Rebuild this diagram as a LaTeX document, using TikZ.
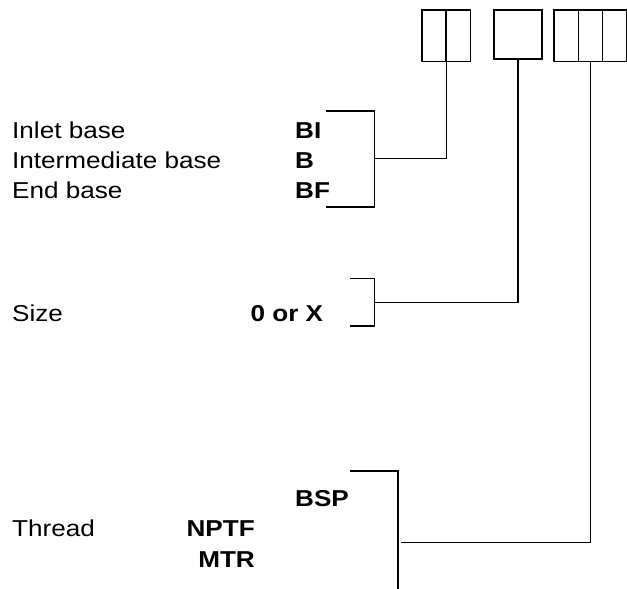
\documentclass[tikz,border=0pt]{standalone}
\usepackage{fontspec}
\setmainfont{Liberation Sans}[FakeStretch=1.135]
\usetikzlibrary{positioning}
\tikzset{
  cell/.style={draw, line width=1.8pt, minimum width=24.1pt, minimum height=51.5pt, inner sep=0pt, outer sep=0pt},
  wide cell/.style={cell, minimum width=48.3pt, minimum height=49.3pt},
  nametext/.style={inner sep=0pt, font=\fontsize{23}{23}\selectfont},
  codetext/.style={inner sep=0pt, font=\fontsize{23}{23}\selectfont\bfseries},
  link/.style={line width=1.6pt}
}

\begin{document}
\begin{tikzpicture}[x=1pt, y=-1pt]
  \useasboundingbox (0,0) rectangle (627,589);

  % code boxes
  \node[cell] (base l) at (434.3,35.8) {};
  \node[cell, right=0pt of base l] (base r) {};
  \node[wide cell] (size box) at (518.1,34.65) {};
  \node[cell] (thread m) at (590.5,35.8) {};
  \node[cell, left=0pt of thread m] (thread l) {};
  \node[cell, right=0pt of thread m] (thread r) {};

  % base
  \node[nametext, anchor=base west] (inlet) at (12,138.3) {Inlet base};
  \node[nametext, anchor=base west] (inter) at (12,168.3) {Intermediate base};
  \node[nametext, anchor=base west] (endb) at (12,198.6) {End base};
  \node[codetext, anchor=base west] (bi) at (295,138.3) {BI};
  \node[codetext, anchor=base west] (b) at (295,168.3) {B};
  \node[codetext, anchor=base west] (bf) at (295,198.6) {BF};
  \coordinate (base top) at (325.7,110.7);
  \coordinate (base mid) at (374.3,158.3);
  \coordinate (base bot) at (325.7,206.7);
  \draw[link] (base top) -| (base mid) |- (base bot);
  \draw[link] (base l.south east) |- (base mid);

  % size
  \node[nametext, anchor=base west] (size) at (12,321.9) {Size};
  \node[codetext, anchor=base east] (zero x) at (323.3,321.9) {0 or X};
  \coordinate (size top) at (350,278.3);
  \coordinate (size mid) at (374.5,302.3);
  \coordinate (size bot) at (350,326);
  \draw[link] (size top) -| (size mid) |- (size bot);
  \draw[link] (size box.south) |- (size mid);

  % thread
  \node[codetext, anchor=base west] (bsp) at (295,506) {BSP};
  \node[nametext, anchor=base west] (thread) at (12,536.7) {Thread};
  \node[codetext, anchor=base east] (nptf) at (255,536.7) {NPTF};
  \node[codetext, anchor=base east] (mtr) at (255,567) {MTR};
  \coordinate (thread top) at (350,470.7);
  \coordinate (thread bot) at (398,589);
  \coordinate (thread mid) at (401,542.3);
  \draw[link] (thread top) -| (thread bot);
  \draw[link] (thread m.south) |- (thread mid);
\end{tikzpicture}
\end{document}
